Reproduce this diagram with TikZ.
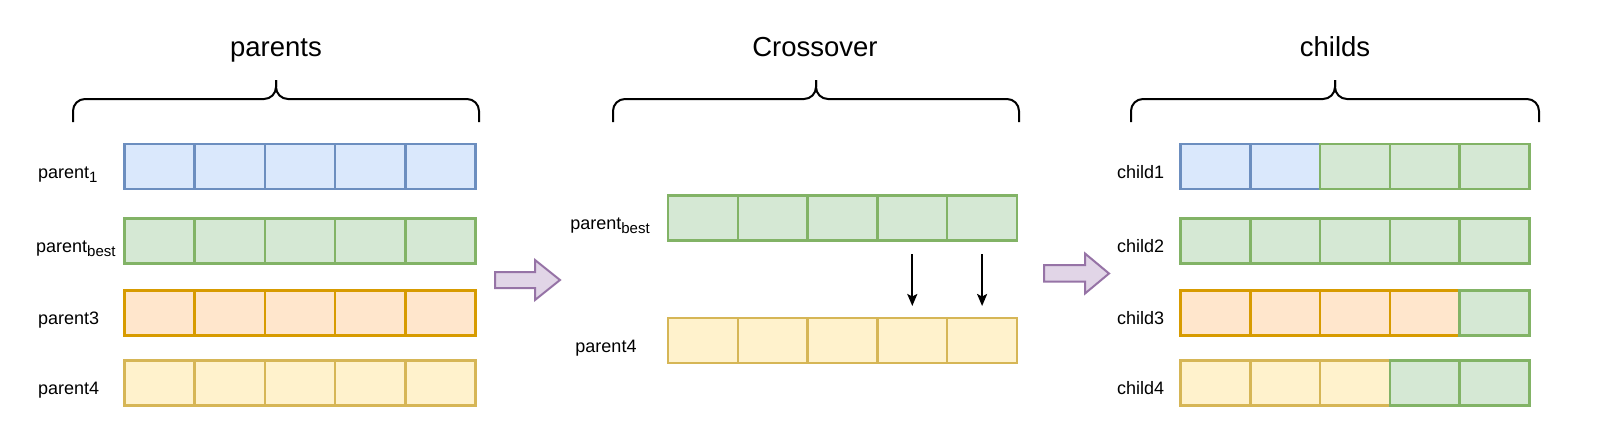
\documentclass[tikz,border=0pt]{standalone}
\usepackage{fontspec}
\setmainfont{Liberation Sans}
\usetikzlibrary{arrows.meta}

\definecolor{blueline}{HTML}{6C8EBF}
\definecolor{bluefill}{HTML}{DAE8FC}
\definecolor{greenline}{HTML}{82B366}
\definecolor{greenfill}{HTML}{D5E8D4}
\definecolor{orangeline}{HTML}{D79B00}
\definecolor{orangefill}{HTML}{FFE6CC}
\definecolor{yellowline}{HTML}{D6B656}
\definecolor{yellowfill}{HTML}{FFF2CC}
\definecolor{purpleline}{HTML}{9673A6}
\definecolor{purplefill}{HTML}{E1D5E7}

\tikzset{
  cell/.style={rectangle, line width=2.5pt, minimum width=70.2pt, minimum height=45pt, inner sep=0pt, outer sep=0pt},
  bluecell/.style={cell, draw=blueline, fill=bluefill},
  greencell/.style={cell, draw=greenline, fill=greenfill},
  orangecell/.style={cell, draw=orangeline, fill=orangefill},
  yellowcell/.style={cell, draw=yellowline, fill=yellowfill},
  lab/.style={inner sep=0pt, font=\fontsize{18}{22}\selectfont},
  headline/.style={inner sep=0pt, font=\fontsize{27.5}{33}\selectfont},
  bracket/.style={line width=2pt, rounded corners=12pt},
  blockarrow/.style={line width=2pt, draw=purpleline, fill=purplefill, line join=miter},
  dropline/.style={line width=2pt, -{Stealth[length=12pt, width=10pt, inset=2.5pt]}}
}

\begin{document}
\begin{tikzpicture}[x=1pt,y=-1pt]
    \useasboundingbox (0,0) rectangle (1610,440);
    % brackets and titles
    \foreach \a/\b in {73/479, 613/1019, 1131/1539} {
        \pgfmathsetmacro\m{(\a+\b)/2}
        \draw[bracket] (\a,122) -- (\a,99) -- (\m,99) -- (\m,80);
        \draw[bracket] (\b,122) -- (\b,99) -- (\m,99) -- (\m,80);
    }
    \node[headline, anchor=base] (tparents) at (276,56) {parents};
    \node[headline, anchor=base] (tcross) at (815,56) {Crossover};
    \node[headline, anchor=base] (tchilds) at (1335,56) {childs};

    % parents
    \foreach \i in {1,...,5} {
        \node[bluecell]   (p1-\i) at (124.5+70.2*\i-35.1,166.5) {};
        \node[greencell]  (pb-\i) at (124.5+70.2*\i-35.1,241) {};
        \node[orangecell] (p3-\i) at (124.5+70.2*\i-35.1,313) {};
        \node[yellowcell] (p4-\i) at (124.5+70.2*\i-35.1,383) {};
    }
    \node[lab, anchor=base west] (lp1) at (38,178) {parent\raisebox{-4pt}{\fontsize{15}{15}\selectfont 1}};
    \node[lab, anchor=base west] (lpb) at (36,252.5) {parent\raisebox{-4pt}{\fontsize{15}{15}\selectfont best}};
    \node[lab, anchor=base west] (lp3) at (38,324.5) {parent3};
    \node[lab, anchor=base west] (lp4) at (38,394.5) {parent4};

    \draw[blockarrow] (495,272) -- (535,272) -- (535,260) -- (560,280) -- (535,300) -- (535,288) -- (495,288) -- cycle;

    % crossover
    \foreach \i in {1,...,5} {
        \node[greencell, minimum width=69.8pt]  (xb-\i) at (668+69.8*\i-34.9,218) {};
        \node[yellowcell, minimum width=69.8pt] (x4-\i) at (668+69.8*\i-34.9,340.5) {};
    }
    \node[lab, anchor=base] (lxb) at (610,229) {parent\raisebox{-4pt}{\fontsize{15}{15}\selectfont best}};
    \node[lab, anchor=base] (lx4) at (606,352) {parent4};
    \draw[dropline] ([yshift=-13.5pt]xb-4.south) -- ([yshift=12pt]x4-4.north);
    \draw[dropline] ([yshift=-13.5pt]xb-5.south) -- ([yshift=12pt]x4-5.north);

    \draw[blockarrow] (1044,265) -- (1085,265) -- (1085,253.5) -- (1109,273.5) -- (1085,293.5) -- (1085,281.5) -- (1044,281.5) -- cycle;

    % childs
    \foreach \i/\s in {1/bluecell, 2/bluecell, 3/greencell, 4/greencell, 5/greencell} {
        \node[\s, minimum width=69.8pt] (c1-\i) at (1180.5+69.8*\i-34.9,166.5) {};
    }
    \foreach \i in {1,...,5} {
        \node[greencell, minimum width=69.8pt] (c2-\i) at (1180.5+69.8*\i-34.9,241) {};
    }
    \foreach \i/\s in {1/orangecell, 2/orangecell, 3/orangecell, 4/orangecell, 5/greencell} {
        \node[\s, minimum width=69.8pt] (c3-\i) at (1180.5+69.8*\i-34.9,313) {};
    }
    \foreach \i/\s in {1/yellowcell, 2/yellowcell, 3/yellowcell, 4/greencell, 5/greencell} {
        \node[\s, minimum width=69.8pt] (c4-\i) at (1180.5+69.8*\i-34.9,383) {};
    }
    \node[lab, anchor=base west] (lc1) at (1117,178) {child1};
    \node[lab, anchor=base west] (lc2) at (1117,252.5) {child2};
    \node[lab, anchor=base west] (lc3) at (1117,324.5) {child3};
    \node[lab, anchor=base west] (lc4) at (1117,394.5) {child4};
\end{tikzpicture}
\end{document}
